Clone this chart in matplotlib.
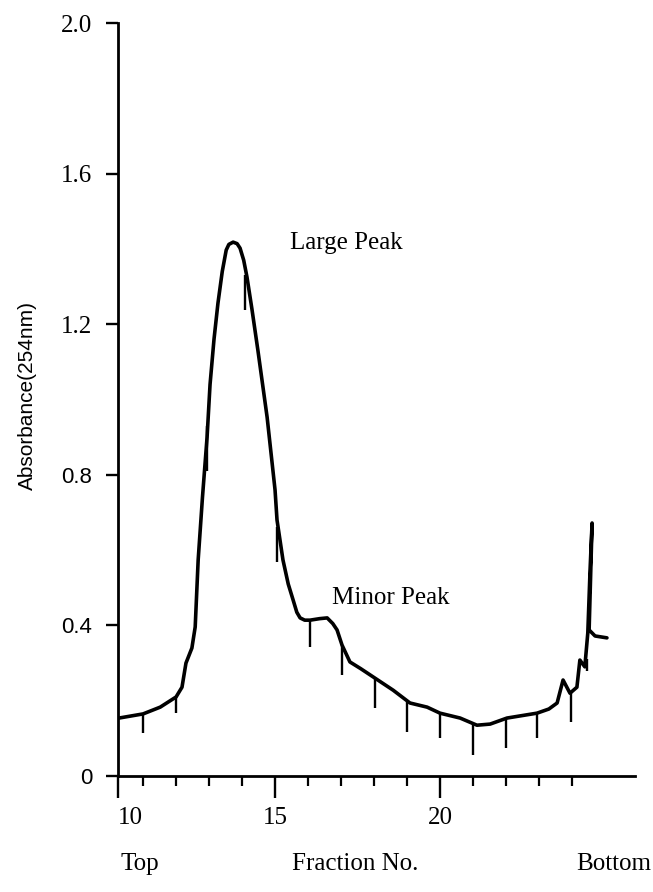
import numpy as np
import matplotlib
matplotlib.use("Agg")
import matplotlib.pyplot as plt
from matplotlib import font_manager

# ---- data ----
fraction = [10.27, 11.0, 11.52, 12.0, 12.18, 12.30, 12.48, 12.58, 12.67, 12.80, 12.94, 13.03,
            13.15, 13.27, 13.40, 13.52, 13.60, 13.73, 13.85, 13.94, 14.05, 14.15, 14.30,
            14.48, 14.76, 15.0, 15.06, 15.24, 15.40, 15.55, 15.66, 15.76, 15.90, 16.06,
            16.35, 16.58, 16.75, 16.88, 17.03, 17.27, 17.6, 18.03, 18.58, 19.09, 19.61,
            20.0, 20.61, 21.12, 21.52, 22.03, 22.94, 23.30, 23.55, 23.73, 23.94, 24.15,
            24.24, 24.39, 24.48, 24.55, 24.61, 24.52, 24.70, 25.06]
absorbance = [0.154, 0.165, 0.183, 0.21, 0.236, 0.30, 0.34, 0.396, 0.574, 0.74, 0.90, 1.04,
              1.16, 1.256, 1.34, 1.397, 1.412, 1.418, 1.414, 1.402, 1.37, 1.325, 1.24,
              1.131, 0.953, 0.76, 0.68, 0.574, 0.51, 0.467, 0.435, 0.42, 0.414, 0.414,
              0.418, 0.42, 0.405, 0.388, 0.348, 0.303, 0.285, 0.26, 0.228, 0.194, 0.183,
              0.167, 0.154, 0.135, 0.138, 0.154, 0.167, 0.178, 0.194, 0.255, 0.22, 0.236,
              0.308, 0.29, 0.38, 0.55, 0.672, 0.388, 0.372, 0.367]

# fraction-collector event marks: position, top, bottom
mark_x = [11.0, 12.0, 12.94, 14.1, 15.06, 16.06, 17.03, 18.03, 19.0, 20.0, 21.0, 22.0, 22.94, 23.97, 24.45]
mark_top = [0.165, 0.21, 0.93, 1.33, 0.661, 0.414, 0.348, 0.26, 0.196, 0.167, 0.137, 0.154, 0.167, 0.22, 0.31]
mark_bottom = [0.114, 0.167, 0.81, 1.238, 0.568, 0.343, 0.268, 0.18, 0.117, 0.10, 0.056, 0.074, 0.10, 0.143, 0.28]

y_ticks = [0, 0.4, 0.8, 1.2, 1.6, 2.0]
y_ticklabels = ["0", "0.4", "0.8", "1.2", "1.6", "2.0"]
x_major = [15, 20]
x_minor = [11, 12, 13, 14, 16, 17, 18, 19, 21, 22, 23, 24]
x_start = 10.24

serif = ["Liberation Serif", "DejaVu Serif"]
sans = ["Liberation Sans", "DejaVu Sans"]

names = {f.name for f in font_manager.fontManager.ttflist}
if "Liberation Sans Narrow" in names:
    ylab_family, ylab_size = ["Liberation Sans Narrow", "Liberation Sans"], 17.5
else:
    ylab_family, ylab_size = sans, 15

fig = plt.figure(figsize=(6.53, 8.92), dpi=100)
ax = fig.add_axes([0.1807, 0.130, 0.9724 - 0.1807, 0.9742 - 0.130])

ax.plot(fraction, absorbance, color="black", lw=2.6, solid_joinstyle="round", solid_capstyle="round")
ax.vlines(mark_x, mark_bottom, mark_top, color="black", lw=1.7)

ax.set_xlim(x_start, 25.91)
ax.set_ylim(0, 2.0)

for s in ["top", "right"]:
    ax.spines[s].set_visible(False)
for s in ["left", "bottom"]:
    ax.spines[s].set_linewidth(2.0)

ax.set_yticks(y_ticks)
ax.set_yticklabels(y_ticklabels)
ax.tick_params(axis="y", direction="out", length=8.5, width=1.7, pad=10, labelsize=18)
for lab in ax.get_yticklabels():
    if lab.get_text() in ("0", "0.4", "0.8"):
        lab.set_fontfamily(ylab_family)
        lab.set_fontsize(ylab_size + 1)
    else:
        lab.set_fontfamily(serif)

ax.set_xticks([x_start] + x_major)
ax.set_xticklabels(["10", "15", "20"])
ax.set_xticks(x_minor, minor=True)
ax.tick_params(axis="x", which="major", direction="out", length=16, width=1.7, pad=6, labelsize=18)
ax.tick_params(axis="x", which="minor", direction="out", length=7, width=1.6)
for lab in ax.get_xticklabels():
    lab.set_fontfamily(serif)
    if lab.get_text() == "10":
        lab.set_horizontalalignment("left")

fig.text(27 / 653, 1 - 395 / 892, "Absorbance(254nm)", rotation=90, ha="center", va="center",
         family=ylab_family, fontsize=ylab_size)

ax.text(17.15, 1.415, "Large Peak", ha="center", va="center", family=serif, fontsize=18)
ax.text(18.5, 0.473, "Minor Peak", ha="center", va="center", family=serif, fontsize=18)

fig.text(140 / 653, 1 - 864 / 892, "Top", ha="center", va="center", family=serif, fontsize=18)
fig.text(355 / 653, 1 - 864 / 892, "Fraction No.", ha="center", va="center", family=serif, fontsize=18)
fig.text(614 / 653, 1 - 864 / 892, "Bottom", ha="center", va="center", family=serif, fontsize=18)

fig.savefig("out.png", dpi=100)
